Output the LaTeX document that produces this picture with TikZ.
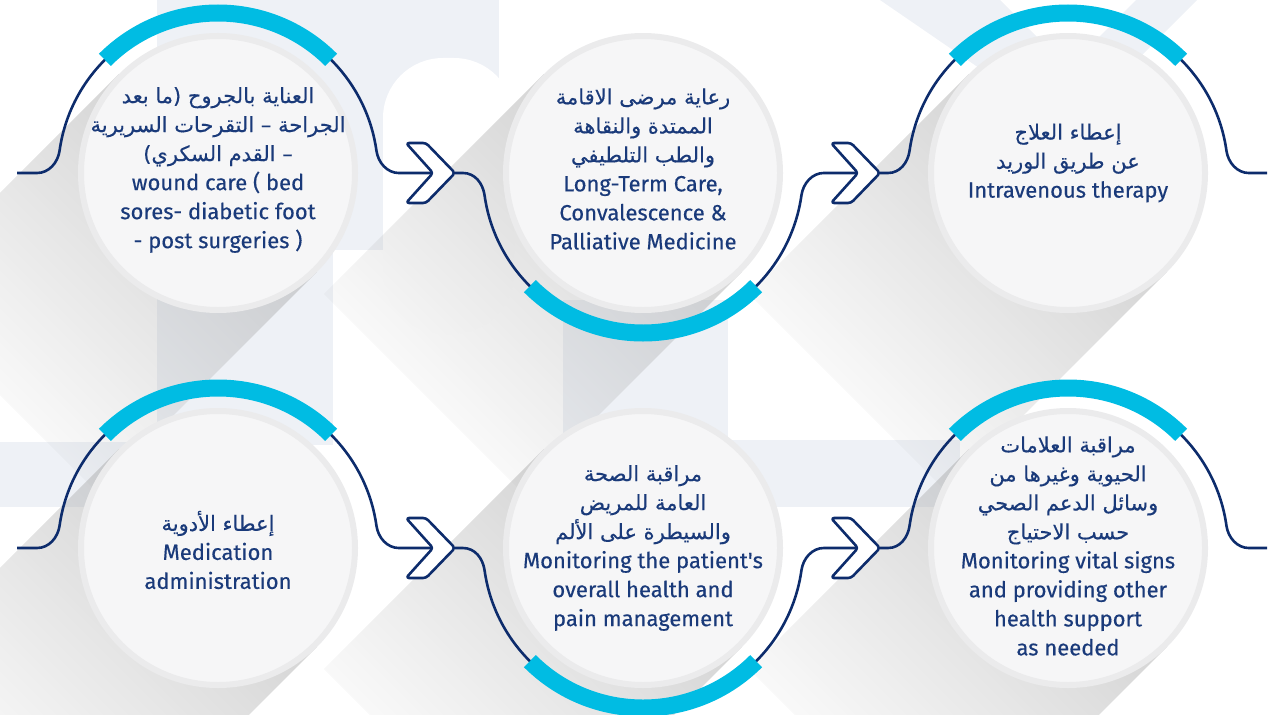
\documentclass[tikz,border=0pt]{standalone}
\usepackage{fontspec}
\setmainfont{Fira Sans}
\newfontfamily\captionfont{Fira Sans}[FakeBold=0.35]
\newfontfamily\arabicfont[Script=Arabic, FakeBold=0.3]{DejaVu Sans}
\TeXXeTstate=1
\usetikzlibrary{fadings}

\definecolor{navy}{HTML}{0D2C6C}
\definecolor{ringcyan}{HTML}{00BCE3}
\definecolor{textblue}{HTML}{1A3A7A}
\definecolor{bubblefill}{HTML}{F6F6F7}
\definecolor{bubblering}{HTML}{EBEBEC}
\definecolor{bglight}{HTML}{EEF1F6}

\newcommand{\arline}[1]{{\arabicfont\fontsize{10.5}{14.5}\selectfont\beginR #1\endR}}

\tikzfading[name=shadefade, top color=transparent!45, bottom color=transparent!100]

\begin{document}
\begin{tikzpicture}[x=0.5pt, y=0.5pt,
    bubble/.style={circle, fill=bubblefill, draw=bubblering, line width=3pt, minimum size=137pt, inner sep=0pt},
    cyanarc/.style={draw=ringcyan, line width=8.5pt},
    wave/.style={draw=navy, line width=1.3pt},
    chevron/.style={draw=navy, fill=white, line width=1.3pt, rounded corners=1.5pt, line join=round},
    caption/.style={text=textblue, align=center, font=\captionfont\fontsize{11}{14.5}\selectfont},
    longshadow/.style={fill=black!35, path fading=shadefade, fading angle=-45},
    watermark/.style={fill=bglight}]
    \path[use as bounding box, clip] (0,0) rectangle (1283,714);

    % faint background shapes
    \fill[watermark] (157,269) rectangle (333,714);
    \fill[watermark] (333,464) rectangle (499,714);
    \fill[white, rounded corners=30pt] (383,380) rectangle (514,656);
    \fill[watermark] (0,207) rectangle (157,272);
    \fill[watermark] (563,207) rectangle (728,414);
    \fill[watermark] (728,207) rectangle (960,274);
    \fill[watermark] (880,714) -- (1000,714) -- (1068,646) -- (1136,714) -- (1197,714) -- (1068,585) -- cycle;

    \coordinate (p1) at (218,541);
    \coordinate (p2) at (643,541);
    \coordinate (p3) at (1068,541);
    \coordinate (p4) at (218,166);
    \coordinate (p5) at (643,166);
    \coordinate (p6) at (1068,166);

    % long shadows
    \fill[longshadow] ([shift={(135:140)}]p1) -- ([shift={(-45:140)}]p1) -- ++(-220,-220) -- ++(-198,198) -- cycle;
    \fill[longshadow] ([shift={(135:140)}]p2) -- ([shift={(-45:140)}]p2) -- ++(-220,-220) -- ++(-198,198) -- cycle;
    \fill[longshadow] ([shift={(135:140)}]p3) -- ([shift={(-45:140)}]p3) -- ++(-220,-220) -- ++(-198,198) -- cycle;
    \fill[longshadow] ([shift={(135:140)}]p4) -- ([shift={(-45:140)}]p4) -- ++(-220,-220) -- ++(-198,198) -- cycle;
    \fill[longshadow] ([shift={(135:140)}]p5) -- ([shift={(-45:140)}]p5) -- ++(-220,-220) -- ++(-198,198) -- cycle;
    \fill[longshadow] ([shift={(135:140)}]p6) -- ([shift={(-45:140)}]p6) -- ++(-220,-220) -- ++(-198,198) -- cycle;

    \node[bubble] (c1) at (p1) {};
    \node[bubble] (c2) at (p2) {};
    \node[bubble] (c3) at (p3) {};
    \node[bubble] (c4) at (p4) {};
    \node[bubble] (c5) at (p5) {};
    \node[bubble] (c6) at (p6) {};

    \coordinate (n1) at (433,541);
    \coordinate (n2) at (858,541);
    \coordinate (n3) at (433,166);
    \coordinate (n4) at (858,166);

    % wave lines
    \draw[wave] (17,541) -- ++(20,0) .. controls +(12,0) and +(-1.7,-11.9) .. ([shift={(172:160)}]c1.center)
        arc[start angle=172, end angle=8, radius=160] .. controls +(1.7,-11.9) and +(-12,0) .. ++(22.6,-22.3) -- (n1)
        ([xshift=11pt]n1) -- ++(8,0) .. controls +(12,0) and +(-1.7,11.9) .. ([shift={(188:160)}]c2.center)
        arc[start angle=188, end angle=352, radius=160] .. controls +(1.7,11.9) and +(-12,0) .. ++(22.6,22.3) -- (n2)
        ([xshift=11pt]n2) -- ++(8,0) .. controls +(12,0) and +(-1.7,-11.9) .. ([shift={(172:160)}]c3.center)
        arc[start angle=172, end angle=8, radius=160] .. controls +(1.7,-11.9) and +(-12,0) .. ++(22.6,-22.3) -- (1267,541);
    \draw[wave] (17,166) -- ++(20,0) .. controls +(12,0) and +(-1.7,-11.9) .. ([shift={(172:160)}]c4.center)
        arc[start angle=172, end angle=8, radius=160] .. controls +(1.7,-11.9) and +(-12,0) .. ++(22.6,-22.3) -- (n3)
        ([xshift=11pt]n3) -- ++(8,0) .. controls +(12,0) and +(-1.7,11.9) .. ([shift={(188:160)}]c5.center)
        arc[start angle=188, end angle=352, radius=160] .. controls +(1.7,11.9) and +(-12,0) .. ++(22.6,22.3) -- (n4)
        ([xshift=11pt]n4) -- ++(8,0) .. controls +(12,0) and +(-1.7,-11.9) .. ([shift={(172:160)}]c6.center)
        arc[start angle=172, end angle=8, radius=160] .. controls +(1.7,-11.9) and +(-12,0) .. ++(22.6,-22.3) -- (1267,166);

    % cyan arcs
    \draw[cyanarc] ([shift={(45:160)}]c1.center) arc[start angle=45, end angle=135, radius=160];
    \draw[cyanarc] ([shift={(225:160)}]c2.center) arc[start angle=225, end angle=315, radius=160];
    \draw[cyanarc] ([shift={(45:160)}]c3.center) arc[start angle=45, end angle=135, radius=160];
    \draw[cyanarc] ([shift={(45:160)}]c4.center) arc[start angle=45, end angle=135, radius=160];
    \draw[cyanarc] ([shift={(225:160)}]c5.center) arc[start angle=225, end angle=315, radius=160];
    \draw[cyanarc] ([shift={(45:160)}]c6.center) arc[start angle=45, end angle=135, radius=160];

    % chevrons
    \draw[chevron] (n1) -- ++(-27,30) -- ++(20,0) -- ++(29,-30) -- ++(-29,-30) -- ++(-20,0) -- cycle;
    \draw[chevron] (n2) -- ++(-27,30) -- ++(20,0) -- ++(29,-30) -- ++(-29,-30) -- ++(-20,0) -- cycle;
    \draw[chevron] (n3) -- ++(-27,30) -- ++(20,0) -- ++(29,-30) -- ++(-29,-30) -- ++(-20,0) -- cycle;
    \draw[chevron] (n4) -- ++(-27,30) -- ++(20,0) -- ++(29,-30) -- ++(-29,-30) -- ++(-20,0) -- cycle;

    \node[caption] (t1) at ([yshift=1.5pt]c1.center) {\arline{العناية بالجروح (ما بعد}\\ \arline{الجراحة – التقرحات السريرية}\\ \arline{– القدم السكري)}\\ wound care ( bed\\ sores- diabetic foot\\ - post surgeries )};
    \node[caption] (t2) at ([yshift=2pt]c2.center) {\arline{رعاية مرضى الاقامة}\\ \arline{الممتدة والنقاهة}\\ \arline{والطب التلطيفي}\\ Long-Term Care,\\ Convalescence \&\\ Palliative Medicine};
    \node[caption] (t3) at ([yshift=5pt]c3.center) {\arline{إعطاء العلاج}\\ \arline{عن طريق الوريد}\\ Intravenous therapy};
    \node[caption] (t4) at ([yshift=-1pt]c4.center) {\arline{إعطاء الأدوية}\\ Medication\\ administration};
    \node[caption] (t5) at (c5.center) {\arline{مراقبة الصحة}\\ \arline{العامة للمريض}\\ \arline{والسيطرة على الألم}\\ Monitoring the patient\textquotesingle s\\ overall health and\\ pain management};
    \node[caption] (t6) at ([yshift=1pt]c6.center) {\arline{مراقبة العلامات}\\ \arline{الحيوية وغيرها من}\\ \arline{وسائل الدعم الصحي}\\ \arline{حسب الاحتياج}\\ Monitoring vital signs\\ and providing other\\ health support\\ as needed};
\end{tikzpicture}
\end{document}
